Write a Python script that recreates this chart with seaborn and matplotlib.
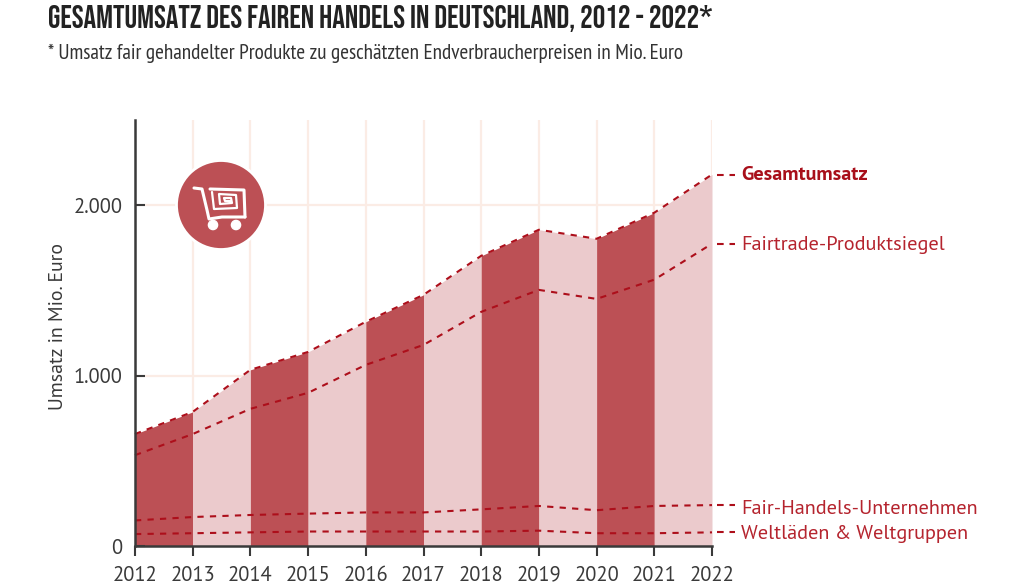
import matplotlib
matplotlib.use("Agg")
import matplotlib.pyplot as plt
from matplotlib.patches import Circle
import numpy as np
import pandas as pd
import seaborn as sns

years = [2012, 2013, 2014, 2015, 2016, 2017, 2018, 2019, 2020, 2021, 2022]
gesamt = [657, 787, 1034, 1139, 1316, 1474, 1703, 1856, 1803, 1956, 2180]
fairtrade = [533, 657, 805, 899, 1063, 1180, 1374, 1503, 1450, 1563, 1774]
unternehmen = [150, 170, 182, 190, 197, 197, 215, 235, 210, 235, 240]
weltlaeden = [70, 75, 80, 85, 85, 85, 85, 90, 75, 75, 80]
series_names = ["Gesamtumsatz", "Fairtrade-Produktsiegel", "Fair-Handels-Unternehmen", "Weltläden & Weltgruppen"]
series_values = [gesamt, fairtrade, unternehmen, weltlaeden]
title = "GESAMTUMSATZ DES FAIREN HANDELS IN DEUTSCHLAND, 2012 - 2022*"
subtitle = "* Umsatz fair gehandelter Produkte zu geschätzten Endverbraucherpreisen in Mio. Euro"
ylabel = "Umsatz in Mio. Euro"

DARK = "#BC5055"; LIGHT = "#EBCACC"; GRID = "#FBECE5"; LINE = "#AD0F1B"; INK = "#3A3A3A"
sns.set_theme(style="white")
plt.rcParams["font.family"] = ["PT Sans", "DejaVu Sans"]

W, H = 1024, 585
fig = plt.figure(figsize=(W / 100, H / 100), dpi=100, facecolor="white")
ax = fig.add_axes([135 / W, 1 - 546 / H, (712 - 135) / W, (546 - 120) / H])
ax.set_xlim(2012, 2022)
ax.set_ylim(0, 2500)
ax.set_axisbelow(False)

ax.vlines(years, 0, 2500, color=GRID, lw=1.6, zorder=1)
ax.hlines([1000, 2000], 2012, 2022, color=GRID, lw=1.6, zorder=1)

for i in range(len(years) - 1):
    ax.fill_between(years[i:i + 2], 0, gesamt[i:i + 2], color=DARK if i % 2 == 0 else LIGHT, lw=0, zorder=2)

df = pd.DataFrame({"Jahr": years * 4,
                   "Serie": sum([[n] * len(years) for n in series_names], []),
                   "Umsatz": sum(series_values, [])})
sns.lineplot(data=df, x="Jahr", y="Umsatz", units="Serie", estimator=None, color=LINE, lw=1.5,
             ax=ax, zorder=3, legend=False, linestyle=(0, (3, 3)), clip_on=False)

label_offsets = [-0.5, -1.2, -3, -1.5]
for name, vals, off in zip(series_names, series_values, label_offsets):
    ax.plot([2022.09, 2022.4], [vals[-1]] * 2, color=LINE, lw=1.5, linestyle=(0, (3.2, 2.8)), clip_on=False)
    bold = name == "Gesamtumsatz"
    ax.annotate(name, xy=(2022, vals[-1]), xytext=(21, off), textcoords="offset points", va="center", ha="left",
                fontsize=14.55, color="#A80F1A" if bold else "#B5242E",
                fontweight="bold" if bold else "normal", annotation_clip=False)

ax.set_xticks(years)
ax.set_yticks([0, 1000, 2000], ["0", "1.000", "2.000"])
ax.set_xlabel(""); ax.set_ylabel(ylabel, fontsize=14.2, color=INK)
ax.yaxis.set_label_coords((67 - 135) / (712 - 135), (546 - 327) / (546 - 120))
ax.tick_params(axis="x", direction="out", length=7, width=1.5, color=INK, labelsize=14.8, labelcolor=INK, pad=18, bottom=True)
ax.tick_params(axis="y", direction="in", length=7, width=1.5, color=INK, labelsize=14.8, labelcolor=INK, pad=9, left=True)
for lab in ax.get_xticklabels():
    lab.set_verticalalignment("baseline")
for s in ["top", "right"]:
    ax.spines[s].set_visible(False)
for s in ["left", "bottom"]:
    ax.spines[s].set_color(INK); ax.spines[s].set_linewidth(1.8); ax.spines[s].set_zorder(5)

# Icon: round badge with shopping cart, in pixel-based overlay
ov = fig.add_axes([0, 0, 1, 1], facecolor="none")
ov.set_xlim(0, W); ov.set_ylim(H, 0); ov.axis("off")
ov.add_patch(Circle((221, 205), 44.5, color=DARK, ec="white", lw=2, zorder=3))
ov.plot([194, 202, 207, 209, 222, 245], [188, 189, 210, 219, 217, 217], color="white", lw=2.2, zorder=4, solid_capstyle="round")
ov.plot([245, 244, 210], [217, 190, 189], color="white", lw=2.2, zorder=4)
ov.plot([212, 214, 237, 236, 219, 220, 232, 231, 224, 225, 230], [192, 209, 208, 195, 194, 204, 203, 198, 198, 201, 201],
        color="white", lw=1.6, zorder=4)
ov.add_patch(Circle((213, 225), 4.6, color="white", zorder=4))
ov.add_patch(Circle((236, 225), 4.6, color="white", zorder=4))

fig.text(48 / W, 1 - 18 / H, title, fontsize=22.7, family=["Bebas Neue", "DejaVu Sans"],
         color="#222222", va="center", ha="left")
fig.text(48 / W, 1 - 53 / H, subtitle, fontsize=15.3, family=["PT Sans Narrow", "DejaVu Sans"],
         color="#333333", va="center", ha="left")

fig.savefig("out.png", dpi=100, facecolor="white")
